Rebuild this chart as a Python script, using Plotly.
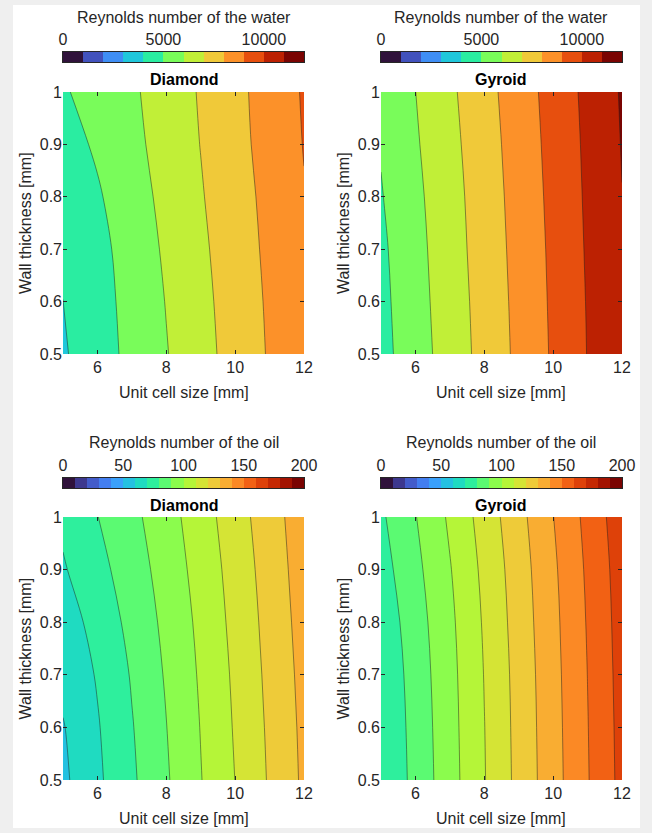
import numpy as np
import plotly.graph_objects as go
import plotly.express as px

W, H = 652, 833

# ---------------- data ----------------
unit_cell = [5, 6, 7, 8, 9, 10, 11, 12]          # mm (x)
wall = [0.5, 0.6, 0.7, 0.8, 0.9, 1.0]            # mm (y)

# Reynolds number of the water, rows = wall thickness, cols = unit cell size
re_water_diamond = [
    [3890, 4571, 5257, 5951, 6664, 7376, 8085, 8794],
    [3995, 4637, 5312, 6035, 6734, 7434, 8133, 8832],
    [4120, 4700, 5423, 6143, 6823, 7510, 8201, 8896],
    [4250, 4890, 5579, 6260, 6927, 7593, 8267, 8952],
    [4600, 5139, 5745, 6374, 7020, 7687, 8358, 9034],
    [4900, 5370, 5854, 6446, 7085, 7739, 8408, 9088],
]
re_water_gyroid = [
    [4684, 5561, 6442, 7327, 8216, 9118, 10027, 10936],
    [4743, 5628, 6500, 7372, 8259, 9153, 10054, 10955],
    [4816, 5693, 6565, 7435, 8307, 9191, 10096, 10974],
    [4941, 5782, 6627, 7491, 8365, 9243, 10139, 10985],
    [5066, 5893, 6719, 7569, 8431, 9301, 10183, 11040],
    [5165, 5992, 6818, 7661, 8508, 9368, 10241, 11090],
]
# Reynolds number of the oil
re_oil_diamond = [
    [58.0, 68.2, 78.4, 88.9, 99.6, 110.1, 121.0, 131.7],
    [59.4, 69.2, 79.4, 89.8, 100.3, 110.9, 121.6, 132.2],
    [62.6, 70.8, 80.8, 91.0, 101.2, 111.7, 122.4, 132.9],
    [65.0, 73.5, 82.9, 92.4, 102.3, 112.8, 123.3, 133.8],
    [69.0, 76.8, 85.1, 94.1, 103.8, 113.9, 124.4, 134.7],
    [72.0, 79.8, 87.4, 96.0, 105.4, 115.5, 125.6, 135.6],
]
re_oil_gyroid = [
    [70.3, 83.0, 96.1, 109.5, 122.8, 136.1, 149.4, 162.8],
    [70.8, 83.5, 96.5, 109.8, 123.1, 136.4, 149.7, 163.1],
    [71.5, 84.3, 97.0, 110.3, 123.5, 136.8, 150.1, 163.5],
    [73.3, 85.5, 97.9, 111.1, 124.3, 137.4, 150.7, 164.0],
    [75.9, 87.4, 99.4, 112.3, 125.2, 138.3, 151.5, 164.7],
    [78.4, 89.6, 101.5, 114.1, 126.8, 139.8, 152.8, 166.0],
]

# colour-bar definitions
water_range = [0, 12000]
water_step = 1000
water_ticks = [0, 5000, 10000]
water_ticktext = ["0", "5000", "10000"]
oil_range = [0, 200]
oil_step = 10
oil_ticks = [0, 50, 100, 150, 200]
oil_ticktext = ["0", "50", "100", "150", "200"]

x_ticks = [6, 8, 10, 12]
x_ticktext = ["6", "8", "10", "12"]
y_ticks = [0.5, 0.6, 0.7, 0.8, 0.9, 1.0]
y_ticktext = ["0.5", "0.6", "0.7", "0.8", "0.9", "1"]

panel_titles = ["Diamond", "Gyroid", "Diamond", "Gyroid"]
cbar_titles = ["Reynolds number of the water", "Reynolds number of the water",
               "Reynolds number of the oil", "Reynolds number of the oil"]

# ---------------- colours: turbo sampled in n steps ----------------
def hex2rgb(h):
    h = h.lstrip('#')
    return [int(h[i:i + 2], 16) for i in (0, 2, 4)]

_anch = np.array([hex2rgb(c) for c in px.colors.sequential.Turbo], dtype=float)

def turbo(n):
    pos = np.linspace(0, 1, len(_anch))
    out = []
    for t in np.linspace(0, 1, n):
        rgb = [np.interp(t, pos, _anch[:, k]) for k in range(3)]
        out.append('rgb(%d,%d,%d)' % tuple(int(round(v)) for v in rgb))
    return out

def scale(cols):
    n = len(cols)
    return [[i / (n - 1), c] for i, c in enumerate(cols)]

n_water = (water_range[1] - water_range[0]) // water_step
n_oil = (oil_range[1] - oil_range[0]) // oil_step
water_cols = turbo(n_water)
oil_cols = turbo(n_oil)

FONT = "Liberation Sans, Arial, Helvetica, sans-serif"
TXT = "#262626"
FS = 16

# ---------------- layout geometry (pixels) ----------------
plot_boxes = [(63, 304, 92, 354), (381, 622, 92, 354),
              (63, 304, 517, 780), (381, 622, 517, 780)]
cbar_boxes = [(63, 304, 52, 62), (381, 622, 52, 62),
              (63, 304, 478, 488), (381, 622, 478, 488)]

def xd(a, b):
    return [a / W, b / W]

def yd(top, bot):
    return [1 - bot / H, 1 - top / H]

fig = go.Figure()
layout = dict(width=W, height=H, margin=dict(l=0, r=0, t=0, b=0, pad=0),
              paper_bgcolor="#efefef", plot_bgcolor="white",
              showlegend=False, font=dict(family=FONT, size=FS, color=TXT))

data_sets = [(re_water_diamond, water_cols, water_range, water_step),
             (re_water_gyroid, water_cols, water_range, water_step),
             (re_oil_diamond, oil_cols, oil_range, oil_step),
             (re_oil_gyroid, oil_cols, oil_range, oil_step)]

annotations = []
for i, (z, cols, rng, step) in enumerate(data_sets):
    k = i + 1
    xa = 'x' if k == 1 else 'x%d' % k
    ya = 'y' if k == 1 else 'y%d' % k
    fig.add_trace(go.Contour(
        x=unit_cell, y=wall, z=z, xaxis=xa, yaxis=ya,
        autocontour=False,
        contours=dict(start=rng[0] + step, end=rng[1] - step, size=step,
                      coloring='fill', showlines=True),
        colorscale=scale(cols), showscale=False,
        line=dict(color='rgba(30,30,30,0.8)', width=0.6, smoothing=1),
        hoverinfo='skip'))
    x0, x1, t, b = plot_boxes[i]
    axk = '' if k == 1 else str(k)
    layout['xaxis' + axk] = dict(domain=xd(x0, x1), anchor=ya, range=[5, 12],
                                 tickvals=x_ticks, ticktext=x_ticktext,
                                 ticks='inside', ticklen=4, automargin=False,
                                 tickwidth=0.8, tickcolor=TXT, mirror='allticks',
                                 showline=False, showgrid=False, zeroline=False,
                                 ticklabelstandoff=2,
                                 tickfont=dict(size=FS, color=TXT))
    layout['yaxis' + axk] = dict(domain=yd(t, b), anchor=xa, range=[0.5, 1.0],
                                 tickvals=y_ticks, ticktext=y_ticktext, automargin=False,
                                 ticks='inside', ticklen=4, tickwidth=0.8,
                                 tickcolor=TXT, mirror='allticks', showline=False,
                                 showgrid=False, zeroline=False,
                                 tickfont=dict(size=FS, color=TXT))
    # panel title
    annotations.append(dict(text="<b>%s</b>" % panel_titles[i], xref='paper', yref='paper',
                            x=(x0 + x1) / 2 / W, y=1 - (t - 12) / H, showarrow=False,
                            xanchor='center', yanchor='middle', font=dict(size=FS, color='black')))
    # axis titles
    annotations.append(dict(text="Unit cell size [mm]", xref='paper', yref='paper',
                            x=(x0 + x1) / 2 / W, y=1 - (b + 38) / H, showarrow=False,
                            xanchor='center', yanchor='middle'))
    annotations.append(dict(text="Wall thickness [mm]", xref='paper', yref='paper',
                            x=(x0 - 38) / W, y=1 - (t + b) / 2 / H, showarrow=False,
                            textangle=-90, xanchor='center', yanchor='middle'))

# colour bars
for i, (z, cols, rng, step) in enumerate(data_sets):
    k = i + 5
    xa, ya = 'x%d' % k, 'y%d' % k
    n = len(cols)
    edges = [rng[0] + j * step for j in range(n + 1)]
    fig.add_trace(go.Heatmap(x=edges, y=[0, 1], z=[list(range(n))], zmin=0, zmax=n - 1,
                             colorscale=scale(cols), showscale=False,
                             xaxis=xa, yaxis=ya, hoverinfo='skip'))
    x0, x1, t, b = cbar_boxes[i]
    ticks = water_ticks if i < 2 else oil_ticks
    ttext = water_ticktext if i < 2 else oil_ticktext
    layout['xaxis%d' % k] = dict(domain=xd(x0, x1), anchor=ya, range=rng, side='top',
                                 tickvals=ticks, ticktext=ttext, ticks='',
                                 ticklabelstandoff=0, automargin=False,
                                 showline=True, linecolor=TXT,
                                 linewidth=0.6, mirror=True, showgrid=False, zeroline=False,
                                 tickfont=dict(size=FS, color=TXT))
    layout['yaxis%d' % k] = dict(domain=yd(t, b), anchor=xa, range=[0, 1], automargin=False,
                                 showticklabels=False, ticks='', showline=True,
                                 linecolor=TXT, linewidth=0.6, mirror=True,
                                 showgrid=False, zeroline=False)
    annotations.append(dict(text=cbar_titles[i], xref='paper', yref='paper',
                            x=(x0 + x1) / 2 / W, y=1 - (t - 35) / H, showarrow=False,
                            xanchor='center', yanchor='middle'))

layout['annotations'] = annotations
layout['shapes'] = [dict(type='rect', xref='paper', yref='paper', layer='below',
                         x0=13 / W, x1=640 / W, y0=1 - 828 / H, y1=1 - 5 / H,
                         fillcolor='white', line=dict(width=0))]
fig.update_layout(**layout)

fit_js = (
    "document.documentElement.style.margin='0';document.documentElement.style.padding='0';"
    "document.body.style.margin='0';document.body.style.padding='0';"
    "document.body.style.overflow='hidden';document.body.style.background='#efefef';"
    "var gd=document.getElementById('{plot_id}');"
    "var vw=window.innerWidth, vh=window.innerHeight;"
    "if(vw>0 && vh>0 && (vw!==%d || vh!==%d)){Plotly.relayout(gd,{width:vw,height:vh});}"
) % (W, H)
fig.write_html("out.html", post_script=fit_js)
